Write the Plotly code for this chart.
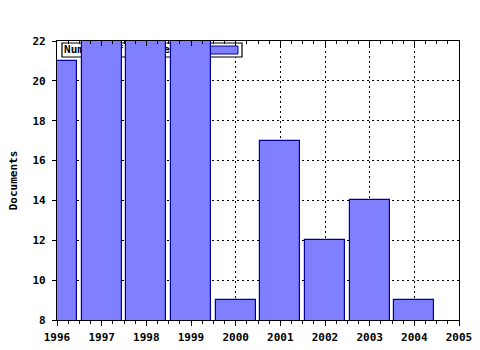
import plotly.graph_objects as go

years = [1996, 1997, 1998, 1999, 2000, 2001, 2002, 2003, 2004]
documents = [21, 24, 24, 24, 9, 17, 12, 14, 9]
series_name = "Number of documents"
y_title = "Documents"
x_range = [1996, 2005]
y_range = [8, 22]
x_ticks = list(range(1996, 2006))
y_ticks = list(range(8, 23, 2))

FONT = dict(family="DejaVu Sans Mono", size=11, color="black", weight="bold")
FILL = "#8080FF"
EDGE = "#000099"


def fx(f):
    return x_range[0] + f * (x_range[1] - x_range[0])


def fy(f):
    return y_range[0] + f * (y_range[1] - y_range[0])


fig = go.Figure()

# legend text (drawn under the bars, as in the reference)
fig.add_trace(go.Scatter(
    x=[fx(0.0175)], y=[fy(0.9675)], mode="text", text=[series_name],
    textposition="middle right", textfont=FONT,
    hoverinfo="skip", showlegend=False, xaxis="x", yaxis="y"))

fig.add_trace(go.Bar(
    x=years, y=documents, width=0.9, name=series_name,
    marker=dict(color=FILL, line=dict(color=EDGE, width=1.2)),
    showlegend=False, xaxis="x2", yaxis="y2"))

# legend box + swatch
fig.add_shape(type="rect", xref="x", yref="y",
              x0=fx(0.0124), x1=fx(0.4602), y0=fy(0.9427), y1=fy(0.9928),
              fillcolor="white", line=dict(color="black", width=1.2),
              layer="between")
fig.add_shape(type="rect", xref="x", yref="y",
              x0=fx(0.3731), x1=fx(0.4502), y0=fy(0.9534), y1=fy(0.982),
              fillcolor=FILL, line=dict(color=EDGE, width=1),
              layer="between")

common_grid = dict(gridcolor="black", gridwidth=1, griddash="2px,3px")

fig.update_layout(
    width=480, height=350,
    margin=dict(l=57, r=21, t=41, b=30, autoexpand=False),
    paper_bgcolor="white", plot_bgcolor="white",
    font=FONT,
    showlegend=False,
    bargap=0,
    xaxis=dict(range=x_range, tickvals=x_ticks, ticktext=[str(t) for t in x_ticks],
               ticks="outside", ticklen=5, tickcolor="black", tickwidth=1,
               minor=dict(dtick=0.25, ticks="outside", ticklen=3, tickcolor="black", showgrid=False),
               showgrid=True, **common_grid, ticklabelstandoff=2,
               showline=True, linecolor="black", linewidth=1.2,
               zeroline=False, tickfont=FONT, fixedrange=True, automargin=False),
    yaxis=dict(range=y_range, tickvals=y_ticks, ticks="outside", ticklen=4,
               tickcolor="black", tickwidth=1, ticklabelstandoff=4,
               showgrid=True, **common_grid,
               showline=True, linecolor="black", linewidth=1.2, mirror=True,
               zeroline=False, tickfont=FONT, automargin=False,
               title=dict(text=y_title, font=FONT, standoff=12), fixedrange=True),
    xaxis2=dict(range=x_range, overlaying="x", side="top", anchor="y",
                tickvals=x_ticks, ticks="inside", ticklen=5, tickcolor="black",
                minor=dict(dtick=0.25, ticks="inside", ticklen=3, tickcolor="black", showgrid=False),
                showticklabels=False, showgrid=False, zeroline=False, automargin=False,
                showline=True, linecolor="black", linewidth=1.2, fixedrange=True),
    yaxis2=dict(range=y_range, overlaying="y", anchor="x2", showgrid=False,
                showticklabels=False, ticks="", zeroline=False, showline=False,
                automargin=False, fixedrange=True),
)

fig.write_html("out.html")
